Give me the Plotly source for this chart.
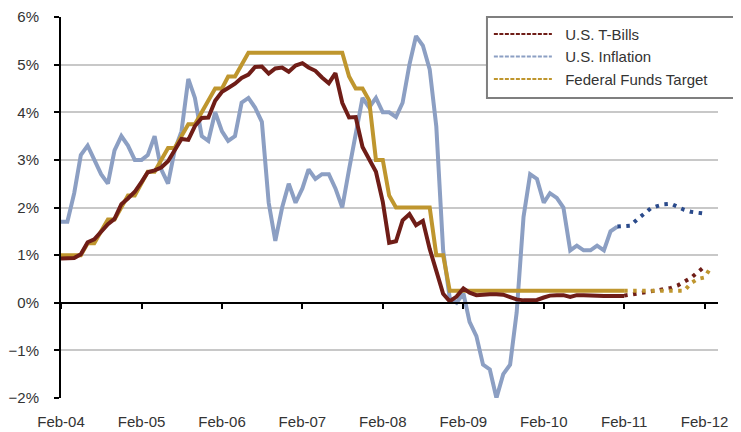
import pandas as pd
import plotly.graph_objects as go

# monthly actuals, Feb-04 .. Feb-11 (%)
tbills = [0.93, 0.94, 0.94, 1.02, 1.27, 1.33, 1.48, 1.65, 1.76, 2.07, 2.19,
          2.33, 2.54, 2.74, 2.78, 2.84, 2.97, 3.22, 3.44, 3.42, 3.71, 3.88, 3.89,
          4.24, 4.43, 4.51, 4.60, 4.72, 4.79, 4.95, 4.96, 4.81, 4.92, 4.94, 4.85,
          4.98, 5.03, 4.94, 4.87, 4.73, 4.61, 4.82, 4.20, 3.89, 3.90, 3.27, 3.00,
          2.75, 2.12, 1.26, 1.29, 1.73, 1.86, 1.63, 1.72, 1.13, 0.67, 0.19, 0.03,
          0.13, 0.30, 0.21, 0.16, 0.18, 0.18, 0.18, 0.17, 0.12, 0.07, 0.05, 0.05,
          0.06, 0.11, 0.15, 0.16, 0.16, 0.12, 0.16, 0.16, 0.15, 0.13, 0.14, 0.14,
          0.15, 0.14]
inflation = [1.7, 1.7, 2.3, 3.1, 3.3, 3.0, 2.7, 2.5, 3.2, 3.5, 3.3,
             3.0, 3.0, 3.1, 3.5, 2.8, 2.5, 3.2, 3.6, 4.7, 4.3, 3.5, 3.4,
             4.0, 3.6, 3.4, 3.5, 4.2, 4.3, 4.1, 3.8, 2.1, 1.3, 2.0, 2.5,
             2.1, 2.4, 2.8, 2.6, 2.7, 2.7, 2.4, 2.0, 2.8, 3.5, 4.3, 4.1,
             4.3, 4.0, 4.0, 3.9, 4.2, 5.0, 5.6, 5.4, 4.9, 3.7, 1.1, 0.1,
             0.0, 0.2, -0.4, -0.7, -1.3, -1.4, -2.0, -1.5, -1.3, -0.2, 1.8, 2.7,
             2.6, 2.1, 2.3, 2.2, 2.0, 1.1, 1.2, 1.1, 1.1, 1.2, 1.1, 1.5,
             1.6]
fed_funds = [1.0, 1.0, 1.0, 1.0, 1.25, 1.25, 1.5, 1.75, 1.75, 2.0, 2.25,
             2.25, 2.5, 2.75, 2.75, 3.0, 3.25, 3.25, 3.5, 3.75, 3.75, 4.0, 4.25,
             4.5, 4.5, 4.75, 4.75, 5.0, 5.25, 5.25, 5.25, 5.25, 5.25, 5.25, 5.25,
             5.25, 5.25, 5.25, 5.25, 5.25, 5.25, 5.25, 5.25, 4.75, 4.5, 4.5, 4.25,
             3.0, 3.0, 2.25, 2.0, 2.0, 2.0, 2.0, 2.0, 2.0, 1.0, 1.0, 0.25] + [0.25] * 26

# forecasts (dotted)
tbills_fc = [0.15, 0.17, 0.19, 0.20, 0.23, 0.26, 0.29, 0.31, 0.36, 0.43, 0.52, 0.64, 0.76]
inflation_fc = [1.60, 1.60, 1.62, 1.75, 1.87, 1.98, 2.03, 2.07, 2.08, 2.01, 1.95, 1.91, 1.89, 1.87]
fed_funds_fc = [0.25] * 10 + [0.41, 0.50, 0.53, 0.75]

names = ["U.S. T-Bills", "U.S. Inflation", "Federal Funds Target"]
RED, BLUE, GOLD, NAVY = "#6f1d17", "#8c9fc3", "#bf962e", "#2a4a8b"
FONT = "Liberation Sans, Arial, sans-serif"
DOTS = "3.5px,5.5px"
NB = "\u00a0"

months = pd.date_range("2004-02-01", periods=len(tbills), freq="MS")
fc_months = pd.date_range("2011-02-01", periods=len(fed_funds_fc), freq="MS")
infl_fc_months = pd.date_range("2011-01-01", periods=len(inflation_fc), freq="MS")

fig = go.Figure()
fig.add_trace(go.Scatter(x=months[:len(inflation)], y=inflation, mode="lines", line=dict(color=BLUE, width=4), showlegend=False))
fig.add_trace(go.Scatter(x=months, y=fed_funds, mode="lines", line=dict(color=GOLD, width=4), showlegend=False))
fig.add_trace(go.Scatter(x=months, y=tbills, mode="lines", line=dict(color=RED, width=4), showlegend=False))
fig.add_trace(go.Scatter(x=infl_fc_months, y=inflation_fc, mode="lines", line=dict(color=NAVY, width=4, dash=DOTS), showlegend=False))
fig.add_trace(go.Scatter(x=fc_months[:len(tbills_fc)], y=tbills_fc, mode="lines", line=dict(color=RED, width=4, dash=DOTS), showlegend=False))
fig.add_trace(go.Scatter(x=fc_months, y=fed_funds_fc, mode="lines", line=dict(color=GOLD, width=4, dash=DOTS), showlegend=False))
# legend entries (dashed samples)
for n, c in zip(names, [RED, BLUE, GOLD]):
    fig.add_trace(go.Scatter(x=[None], y=[None], mode="lines", name=NB * 2 + n, line=dict(color=c, width=2, dash="4px,1.5px")))
# axis line through zero with year ticks
fig.add_trace(go.Scatter(x=[months[0]], y=[None], xaxis="x2", showlegend=False, hoverinfo="skip"))

# plot area runs to the legend's right edge; the x axis only uses the left part of it
dom = [0, 657 / 677]
fig.add_shape(type="rect", xref="paper", yref="paper", x0=0.6292, x1=1.0, y0=0.7874, y1=1.0,
              line=dict(color="#7f7f7f", width=2), fillcolor="white", layer="above")

xr = ["2004-02-01", "2012-04-02"]
fig.update_layout(
    width=733, height=424, margin=dict(l=53, r=3, t=9, b=34, autoexpand=False),
    plot_bgcolor="white", paper_bgcolor="white",
    font=dict(family=FONT, size=15, color="#333333"),
    xaxis=dict(type="date", range=xr, domain=dom, tick0="2004-02-01", dtick="M12", tickformat="%b-%y",
               automargin=False, showgrid=False, showline=False, ticks="", ticklabelstandoff=13, zeroline=False),
    xaxis2=dict(type="date", range=xr, domain=dom, overlaying="x", anchor="free", position=0.25, side="bottom",
                tick0="2004-02-01", dtick="M12", showticklabels=False, showgrid=False, automargin=False,
                showline=True, linecolor="black", linewidth=2, ticks="outside", ticklen=5,
                tickwidth=2, tickcolor="black", zeroline=False),
    yaxis=dict(range=[-2, 6], dtick=1, ticksuffix="%", showgrid=True, gridcolor="#c8c8c8", gridwidth=2,
               showline=True, linecolor="black", linewidth=2, ticks="outside", ticklen=5, tickwidth=2,
               tickcolor="black", zeroline=False, ticklabelstandoff=12, automargin=False),
    legend=dict(x=0.632, y=0.998, xanchor="left", yanchor="top", bgcolor="rgba(0,0,0,0)", borderwidth=0,
                font=dict(size=15, color="#333333"), itemwidth=58, tracegroupgap=0),
)
fig.write_html("out.html")
